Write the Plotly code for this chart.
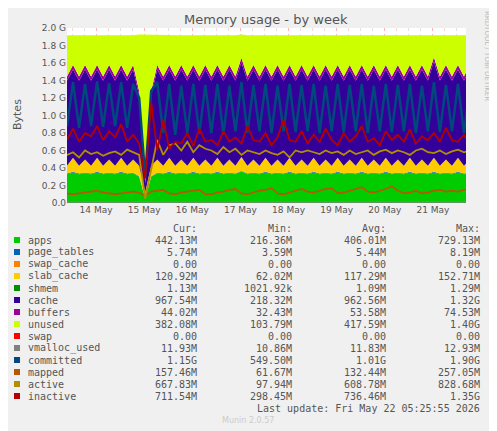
import pandas as pd
import plotly.graph_objects as go

# sampling: every 3 hours, 68 samples (13 May 09:30 -> 21 May 18:30)
times = pd.date_range("2026-05-13 09:30", periods=68, freq="3h")

# stacked series, values in GB
apps = [.33, .35, .33, .34, .33, .35, .33, .34,
        .33, .35, .33, .34, .30, .05, .30, .34,
        .33, .35, .33, .34, .33, .35, .33, .34,
        .33, .35, .33, .34, .33, .36, .33, .34,
        .33, .35, .33, .34, .33, .35, .33, .34,
        .33, .35, .33, .34, .33, .35, .33, .34,
        .33, .35, .33, .34, .33, .35, .33, .34,
        .33, .35, .33, .34, .33, .35, .33, .34,
        .33, .35, .33, .34]
page_tables = [.006, .006, .006, .006, .006, .006, .006, .006,
               .006, .006, .006, .006, .006, .004, .006, .006,
               .006, .006, .006, .006, .006, .006, .006, .006,
               .006, .006, .006, .006, .006, .006, .006, .006,
               .006, .006, .006, .006, .006, .006, .006, .006,
               .006, .006, .006, .006, .006, .006, .006, .006,
               .006, .006, .006, .006, .006, .006, .006, .006,
               .006, .006, .006, .006, .006, .006, .006, .006,
               .006, .006, .006, .006]
swap_cache = [0, 0, 0, 0, 0, 0, 0, 0, 0, 0, 0, 0, 0, 0, 0, 0, 0,
              0, 0, 0, 0, 0, 0, 0, 0, 0, 0, 0, 0, 0, 0, 0, 0, 0,
              0, 0, 0, 0, 0, 0, 0, 0, 0, 0, 0, 0, 0, 0, 0, 0, 0,
              0, 0, 0, 0, 0, 0, 0, 0, 0, 0, 0, 0, 0, 0, 0, 0, 0]
slab_cache = [.09, .16, .09, .15, .09, .16, .09, .15,
              .09, .16, .09, .15, .12, .07, .12, .15,
              .09, .16, .09, .15, .09, .16, .09, .15,
              .09, .16, .09, .15, .09, .16, .09, .15,
              .09, .16, .09, .15, .09, .16, .09, .15,
              .09, .16, .09, .15, .09, .16, .09, .15,
              .09, .16, .09, .15, .09, .16, .09, .15,
              .09, .16, .09, .15, .09, .16, .09, .15,
              .09, .16, .09, .15]
shmem = [.001, .001, .001, .001, .001, .001, .001, .001,
         .001, .001, .001, .001, .001, .001, .001, .001,
         .001, .001, .001, .001, .001, .001, .001, .001,
         .001, .001, .001, .001, .001, .001, .001, .001,
         .001, .001, .001, .001, .001, .001, .001, .001,
         .001, .001, .001, .001, .001, .001, .001, .001,
         .001, .001, .001, .001, .001, .001, .001, .001,
         .001, .001, .001, .001, .001, .001, .001, .001,
         .001, .001, .001, .001]
cache = [.97, 1.01, .97, 1.03, .97, 1.01, .97, 1.03,
         .97, 1.01, .97, 1.03, .80, .10, .80, 1.03,
         .97, 1.01, .97, 1.03, .97, 1.01, .97, 1.03,
         .97, 1.01, .97, 1.03, .97, 1.08, .97, 1.03,
         .97, 1.01, .97, 1.03, .97, 1.01, .97, 1.03,
         .97, 1.01, .97, 1.03, .97, 1.01, .97, 1.03,
         .97, 1.01, .97, 1.03, .97, 1.01, .97, 1.03,
         .97, 1.01, .97, 1.03, .97, 1.10, .97, 1.03,
         .97, 1.01, .97, 1.03]
buffers = [.05, .05, .05, .05, .05, .05, .05, .05,
           .05, .05, .05, .05, .05, .03, .05, .05,
           .05, .05, .05, .05, .05, .05, .05, .05,
           .05, .05, .05, .05, .05, .05, .05, .05,
           .05, .05, .05, .05, .05, .05, .05, .05,
           .05, .05, .05, .05, .05, .05, .05, .05,
           .05, .05, .05, .05, .05, .05, .05, .05,
           .05, .05, .05, .05, .05, .05, .05, .05,
           .05, .05, .05, .05]
unused = [.47, .34, .47, .34, .47, .34, .47, .34,
          .47, .34, .47, .34, .65, 1.67, .65, .34,
          .47, .34, .47, .34, .47, .34, .47, .34,
          .47, .34, .47, .34, .47, .27, .47, .34,
          .47, .34, .47, .34, .47, .34, .47, .34,
          .47, .34, .47, .34, .47, .34, .47, .34,
          .47, .34, .47, .34, .47, .34, .47, .34,
          .47, .34, .47, .34, .47, .25, .47, .34,
          .47, .34, .47, .34]
swap = [0, 0, 0, 0, 0, 0, 0, 0, 0, 0, 0, 0, 0, 0, 0, 0, 0,
        0, 0, 0, 0, 0, 0, 0, 0, 0, 0, 0, 0, 0, 0, 0, 0, 0,
        0, 0, 0, 0, 0, 0, 0, 0, 0, 0, 0, 0, 0, 0, 0, 0, 0,
        0, 0, 0, 0, 0, 0, 0, 0, 0, 0, 0, 0, 0, 0, 0, 0, 0]

# line series
vmalloc_used = [.012, .012, .012, .012, .012, .012, .012, .012,
                .012, .012, .012, .012, .012, .011, .012, .012,
                .012, .012, .012, .012, .012, .012, .012, .012,
                .012, .012, .012, .012, .012, .012, .012, .012,
                .012, .012, .012, .012, .012, .012, .012, .012,
                .012, .012, .012, .012, .012, .012, .012, .012,
                .012, .012, .012, .012, .012, .012, .012, .012,
                .012, .012, .012, .012, .012, .012, .012, .012,
                .012, .012, .012, .012]
committed = [.88, 1.38, .86, 1.36, .88, 1.39, .87, 1.37,
             .88, 1.38, .86, 1.36, 1.20, .30, 1.28, 1.38,
             .80, 1.36, .78, 1.34, .80, 1.36, .79, 1.35,
             .80, 1.36, .78, 1.34, .82, 1.38, .80, 1.35,
             .82, 1.36, .80, 1.34, .82, 1.36, .81, 1.35,
             .82, 1.36, .80, 1.34, .82, 1.36, .81, 1.35,
             .82, 1.36, .80, 1.34, .82, 1.36, .81, 1.35,
             .82, 1.36, .80, 1.34, .82, 1.38, .81, 1.35,
             .82, 1.36, .80, 1.34]
mapped = [.11, .10, .11, .12, .13, .14, .12, .11,
          .10, .11, .12, .13, .12, .08, .13, .14,
          .15, .11, .10, .12, .13, .14, .15, .10,
          .10, .12, .13, .15, .16, .11, .10, .12,
          .14, .15, .17, .11, .10, .12, .14, .16,
          .13, .12, .14, .16, .17, .11, .12, .14,
          .16, .18, .13, .12, .14, .16, .19, .14,
          .11, .12, .14, .11, .12, .14, .15, .13,
          .14, .13, .15, .16]
active = [.55, .58, .52, .60, .56, .58, .54, .57,
          .59, .55, .61, .58, .55, .05, .40, .72,
          .55, .66, .68, .60, .70, .58, .66, .62,
          .60, .56, .64, .58, .62, .55, .60, .58,
          .56, .60, .57, .55, .59, .52, .60, .58,
          .60, .58, .56, .60, .57, .59, .55, .60,
          .56, .58, .60, .55, .59, .61, .57, .60,
          .58, .55, .60, .62, .58, .57, .60, .56,
          .59, .61, .58, .60]
inactive = [.72, .85, .70, .80, .76, .88, .72, .82,
            .75, .90, .70, .78, .68, .28, 1.15, .60,
            .95, .62, .70, .68, .80, .65, .85, .70,
            .72, .66, .82, .70, .75, .68, .88, .72,
            .70, .80, .66, .75, .95, .72, .70, .82,
            .68, .78, .70, .85, .72, .66, .80, .70,
            .76, .88, .70, .74, .66, .82, .72, .78,
            .70, .84, .68, .76, .72, .80, .70, .86,
            .72, .70, .78, .66]

# legend table
names = ["apps", "page_tables", "swap_cache", "slab_cache", "shmem", "cache",
         "buffers", "unused", "swap", "vmalloc_used", "committed", "mapped",
         "active", "inactive"]
colors = ["#00CC00", "#0066B3", "#FF8000", "#FFCC00", "#008F00", "#330099",
          "#990099", "#CCFF00", "#FF0000", "#808080", "#00487D", "#B35A00",
          "#B38F00", "#B30000"]
cur = ["442.13M", "5.74M", "0.00", "120.92M", "1.13M", "967.54M", "44.02M",
       "382.08M", "0.00", "11.93M", "1.15G", "157.46M", "667.83M", "711.54M"]
mins = ["216.36M", "3.59M", "0.00", "62.02M", "1021.92k", "218.32M", "32.43M",
        "103.79M", "0.00", "10.86M", "549.50M", "61.67M", "97.94M", "298.45M"]
avgs = ["406.01M", "5.44M", "0.00", "117.29M", "1.09M", "962.56M", "53.58M",
        "417.59M", "0.00", "11.83M", "1.01G", "132.44M", "608.78M", "736.46M"]
maxs = ["729.13M", "8.19M", "0.00", "152.71M", "1.29M", "1.32G", "74.53M",
        "1.40G", "0.00", "12.93M", "1.90G", "257.05M", "828.68M", "1.35G"]

ytick_vals = [0, .2, .4, .6, .8, 1.0, 1.2, 1.4, 1.6, 1.8, 2.0]
ytick_text = ["0.0", "0.2 G", "0.4 G", "0.6 G", "0.8 G", "1.0 G", "1.2 G",
              "1.4 G", "1.6 G", "1.8 G", "2.0 G"]
xtick_vals = ["2026-05-14", "2026-05-15", "2026-05-16", "2026-05-17",
              "2026-05-18", "2026-05-19", "2026-05-20", "2026-05-21"]
xtick_text = ["14 May", "15 May", "16 May", "17 May", "18 May", "19 May",
              "20 May", "21 May"]

# the page shows the figure 8px in from the top-left corner
OFF = 8
W, H = 497 - OFF, 431 - OFF
L, R, T, B = 67 - OFF, 466 - OFF, 28 - OFF, 203 - OFF


def px(x):
    return (x - OFF - L) / (R - L)


def py(y):
    return (B - (y - OFF)) / (B - T)


fig = go.Figure()

stacked = [apps, page_tables, swap_cache, slab_cache, shmem, cache, buffers,
           unused, swap]
for i, s in enumerate(stacked):
    fig.add_scatter(x=times, y=s, stackgroup="one", mode="lines",
                    line=dict(width=0, color=colors[i]), fillcolor=colors[i],
                    name=names[i], showlegend=False)

lines = [vmalloc_used, committed, mapped, active, inactive]
for j, s in enumerate(lines):
    k = 9 + j
    fig.add_scatter(x=times, y=s, mode="lines",
                    line=dict(width=2.5 if k == 10 else 1.8, color=colors[k]),
                    name=names[k], showlegend=False)

mono = dict(family="DejaVu Sans Mono", size=10, color="#555555")


def note(text, x, y, anchor="center", font=mono, angle=0):
    return dict(text=text, x=px(x), y=py(y), xref="paper", yref="paper",
                xanchor=anchor, yanchor="middle", textangle=angle,
                showarrow=False, font=font)


ann = [note("Memory usage - by week", 266, 20,
            font=dict(family="DejaVu Sans", size=13, color="#555555")),
       note("Bytes", 17, 115,
            font=dict(family="DejaVu Sans", size=11, color="#555555"), angle=-90),
       note("RRDTOOL / TOBI OETIKER", 487, 56,
            font=dict(family="DejaVu Sans", size=7, color="#BBBBBB"), angle=90)]
for txt, xr in [("Cur:", 199), ("Min:", 294), ("Avg:", 388), ("Max:", 482)]:
    ann.append(note(txt, xr, 228, "right"))
shapes = []
for i, n in enumerate(names):
    yy = 240 + i * 12
    shapes.append(dict(type="rect", xref="paper", yref="paper",
                       x0=px(14), x1=px(20), y0=py(yy - 3), y1=py(yy + 3),
                       fillcolor=colors[i], line=dict(width=0)))
    ann.append(note(n, 26, yy, "left"))
    for vals, xr in [(cur, 199), (mins, 294), (avgs, 388), (maxs, 482)]:
        ann.append(note(vals[i], xr, yy, "right"))
ann.append(note("Last update: Fri May 22 05:25:55 2026", 482, 408, "right"))
ann.append(note("Munin 2.0.57", 248, 420,
                font=dict(family="DejaVu Sans", size=8, color="#CCCCCC")))

fig.update_layout(
    width=W, height=H,
    margin=dict(l=L, r=W - R, t=T, b=H - B),
    paper_bgcolor="#F0F0F0", plot_bgcolor="#FFFFFF",
    annotations=ann, shapes=shapes,
    xaxis=dict(range=["2026-05-13 09:30", "2026-05-21 16:30"],
               tickvals=xtick_vals, ticktext=xtick_text,
               showgrid=True, gridcolor="#F0B8B8", griddash="dot",
               minor=dict(dtick=6 * 3600 * 1000, showgrid=True,
                          gridcolor="#EEDDDD", griddash="dot"),
               tickfont=dict(family="DejaVu Sans", size=9, color="#555555"),
               ticks="", showline=False, zeroline=False),
    yaxis=dict(range=[0, 2.0], tickvals=ytick_vals, ticktext=ytick_text,
               showgrid=True, gridcolor="#E8A0A0", griddash="dot",
               tickfont=dict(family="DejaVu Sans", size=9, color="#555555"),
               ticks="", zeroline=False),
)

fig.write_html("out.html")
